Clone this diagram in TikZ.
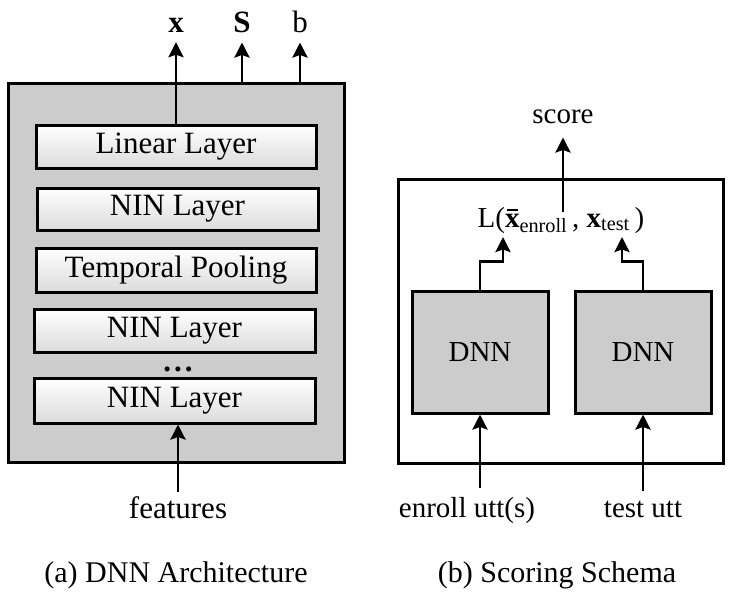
\documentclass[tikz,border=0pt]{standalone}
\usepackage{fontspec}
\setmainfont{Liberation Serif}
\usetikzlibrary{arrows.meta,calc}
\tikzset{
  arr/.style={line width=2.8pt,-{Stealth[length=15pt,width=15pt,inset=2.5pt]}},
  layer/.style={draw,line width=3pt,top color=white,bottom color=gray!28,minimum width=280pt,minimum height=43pt,inner sep=0pt,font=\fontsize{31}{36}\selectfont},
  bigbox/.style={draw,line width=3pt,inner sep=0pt},
  lbl/.style={inner sep=0pt,anchor=base},
  bigtxt/.style={font=\fontsize{31}{36}\selectfont},
  medtxt/.style={font=\fontsize{29}{34}\selectfont},
  toptxt/.style={font=\fontsize{31}{36}\selectfont},
  captxt/.style={font=\fontsize{30}{35}\selectfont},
}
\newcommand{\xbarbold}{\rlap{\textbf{x}}\hspace{1.5pt}\rule[16.5pt]{11.5pt}{2pt}\hspace{1.5pt}}
\begin{document}
\begin{tikzpicture}[x=1pt,y=-1pt]
\useasboundingbox (0,0) rectangle (730,599);
% ---- (a) ----
\node[bigbox,fill=gray!40,minimum width=336pt,minimum height=378pt] (outerA) at (176,273) {};
\node[layer] (lin) at (176,146.5) {Linear Layer};
\node[layer,minimum width=281pt,minimum height=42pt] (nin1) at (177.5,209) {NIN Layer};
\node[layer,minimum height=44pt] (pool) at (176,270) {Temporal Pooling};
\node[layer,minimum width=281pt] (nin2) at (174.5,330.5) {NIN Layer};
\node[lbl,bigtxt] (dots) at (178,371) {\textbf{.\kern3pt.\kern3pt.}};
\node[layer,minimum width=281pt,minimum height=45pt] (nin3) at (174.5,400.5) {NIN Layer};
\node[lbl,toptxt] (xl) at (176,33) {\textbf{x}};
\node[lbl,toptxt] (Sl) at (242,33) {\textbf{S}};
\node[lbl,toptxt] (bl) at (300,33) {b};
\node[lbl,bigtxt] (feat) at (178,518) {features};
\node[lbl,captxt] (capa) at (176,582) {(a) DNN Architecture};
\draw[arr,shorten >=9pt] (lin.north -| xl) -- (xl.south);
\draw[arr,shorten >=9pt] (outerA.north -| Sl) -- (Sl.south);
\draw[arr,shorten >=9pt] (outerA.north -| bl) -- (bl.south);
\draw[arr,shorten <=4pt] (feat.north) -- (nin3.south -| feat);
% ---- (b) ----
\node[bigbox,fill=white,minimum width=325pt,minimum height=284pt] (outerB) at (560.5,321) {};
\node[bigbox,fill=gray!40,minimum width=136pt,minimum height=122pt,medtxt] (dnn1) at (480,352) {DNN};
\node[bigbox,fill=gray!40,minimum width=136pt,minimum height=122pt,medtxt] (dnn2) at (643,352) {DNN};
\node[lbl,medtxt] (Lx) at (561,227) {L(\xbarbold\textsubscript{enroll}\,, \textbf{x}\textsubscript{test}\,)};
\node[lbl,medtxt] (score) at (563,124) {score};
\node[lbl,medtxt] (enl) at (467,517) {enroll utt(s)};
\node[lbl,medtxt] (tst) at (643,517) {test utt};
\node[lbl,captxt] (capb) at (557,582) {(b) Scoring Schema};
\coordinate (e1) at (503,237);
\coordinate (e2) at (622,237);
\draw[arr] (dnn1.north) -- ++(0,-28) -| (e1);
\draw[arr] (dnn2.north) -- ++(0,-28) -| (e2);
\draw[arr,shorten <=-5pt,shorten >=13pt] (Lx.north -| score) -- (score.south);
\draw[arr,shorten <=9pt] (enl.north -| dnn1) -- (dnn1.south);
\draw[arr,shorten <=9pt] (tst.north -| dnn2) -- (dnn2.south);
\end{tikzpicture}
\end{document}
